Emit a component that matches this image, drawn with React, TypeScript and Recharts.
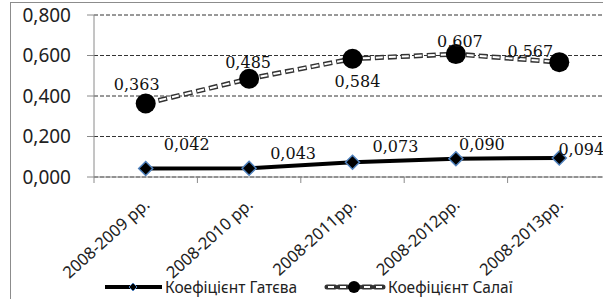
import React from 'react';
import { LineChart, Line, XAxis, YAxis, CartesianGrid } from 'recharts';

const categories = ['2008-2009 рр.', '2008-2010 рр.', '2008-2011рр.', '2008-2012рр.', '2008-2013рр.'];
const gateva = [0.042, 0.043, 0.073, 0.09, 0.094];
const salai = [0.363, 0.485, 0.584, 0.607, 0.567];
const yTicks = [0, 0.2, 0.4, 0.6, 0.8];

// label nudges, Excel-style hand placement
const gatevaOffsets = [[41, -24], [44, -15], [43, -16], [26, -14], [22, -8]];
const salaiOffsets = [[-9, -19], [-1, -16], [5, 23], [4, -13], [-29, -11]];

const rows = categories.map((name, i) => ({ pos: i + 0.5, name, gateva: gateva[i], salai: salai[i] }));
const xTicks = Array.from({ length: categories.length * 2 + 1 }, (_, i) => i / 2);

const fmt = (v: number) => v.toFixed(3).replace('.', ',');
const SANS = '"Noto Sans", "Open Sans", sans-serif';
const SERIF = '"DejaVu Serif", serif';
const AXIS = '#8a8a8a';

const XTick = (props: any) => {
  const { x, y, payload } = props;
  const v = payload.value;
  if (Number.isInteger(v)) {
    return <line x1={x} y1={y} x2={x} y2={y + 6} stroke={AXIS} />;
  }
  const label = categories[Math.floor(v)];
  const tx = x + 5;
  const ty = y + 29;
  return (
    <text x={tx} y={ty} textAnchor="end" transform={`rotate(-42, ${tx}, ${ty})`}
      fontFamily={SANS} fontSize={16.5} fill="#222">
      {label}
    </text>
  );
};

const Diamond = (props: any) => {
  const { cx, cy } = props;
  if (cx == null) return null;
  const r = 7;
  return (
    <path d={`M${cx},${cy - r}L${cx + r},${cy}L${cx},${cy + r}L${cx - r},${cy}Z`}
      fill="#000" stroke="#4f81bd" strokeWidth={1.5} />
  );
};

const Circle = (props: any) => {
  const { cx, cy } = props;
  if (cx == null) return null;
  return <circle cx={cx} cy={cy} r={10} fill="#000" />;
};

const makeLabel = (offsets: number[][], values: number[]) => (props: any) => {
  const { x, y, index } = props;
  const [dx, dy] = offsets[index];
  return (
    <text x={x + dx} y={y + dy} textAnchor="middle" dominantBaseline="central"
      fontFamily={SERIF} fontSize={16} fill="#111">
      {fmt(values[index])}
    </text>
  );
};

const Legend = () => (
  <svg width={603} height={30} style={{ position: 'absolute', left: 0, top: 272 }}>
    <line x1={105} y1={15} x2={162} y2={15} stroke="#000" strokeWidth={4} />
    <path d="M133,11L137,15L133,19L129,15Z" fill="#000" stroke="#4f81bd" />
    <text x={165} y={15} dominantBaseline="central" fontFamily={SANS} fontSize={15.5} fill="#222">
      Коефіцієнт Гатєва
    </text>
    <line x1={327} y1={15} x2={384} y2={15} stroke="#333" strokeWidth={5} strokeDasharray="8 4" strokeLinecap="round" />
    <line x1={328} y1={15} x2={384} y2={15} stroke="#fff" strokeWidth={2} strokeDasharray="6 6" />
    <circle cx={354} cy={15} r={6} fill="#000" />
    <text x={388} y={15} dominantBaseline="central" fontFamily={SANS} fontSize={15.5} fill="#222">
      Коефіцієнт Салаї
    </text>
  </svg>
);

export default function App() {
  return (
    <div style={{ position: 'absolute', left: 0, top: 0, width: 603, height: 299, overflow: 'hidden', background: '#fff' }}>
      <div style={{ position: 'absolute', left: 10, top: 2, width: 640, height: 340, border: '1px solid #8c8c8c' }} />
      <div style={{ position: 'absolute', left: 0, top: 0 }}>
        <LineChart width={620} height={299} data={rows} margin={{ top: 15, right: 9, left: 0, bottom: 0 }}>
          <CartesianGrid vertical={false} stroke="#333" strokeDasharray="4 2" />
          <XAxis dataKey="pos" type="number" domain={[0, 5]} ticks={xTicks} interval={0}
            tickLine={false} tickSize={0} tickMargin={0} height={122}
            axisLine={{ stroke: AXIS }} tick={<XTick />} />
          <YAxis domain={[0, 0.8]} ticks={yTicks} width={94} tickSize={7} tickMargin={16}
            tickFormatter={fmt} axisLine={{ stroke: AXIS }} tickLine={{ stroke: AXIS }}
            tick={{ fontFamily: SANS, fontSize: 19, fill: '#222' }} />
          <Line dataKey="salai" stroke="#333" strokeWidth={5} strokeDasharray="9 4"
            dot={false} isAnimationActive={false} />
          <Line dataKey="salai" stroke="#fff" strokeWidth={2} strokeDasharray="7 6" strokeDashoffset={-1}
            dot={<Circle />} activeDot={false} isAnimationActive={false}
            label={makeLabel(salaiOffsets, salai)} />
          <Line dataKey="gateva" stroke="#000" strokeWidth={4}
            dot={<Diamond />} activeDot={false} isAnimationActive={false}
            label={makeLabel(gatevaOffsets, gateva)} />
        </LineChart>
      </div>
      <Legend />
    </div>
  );
}
